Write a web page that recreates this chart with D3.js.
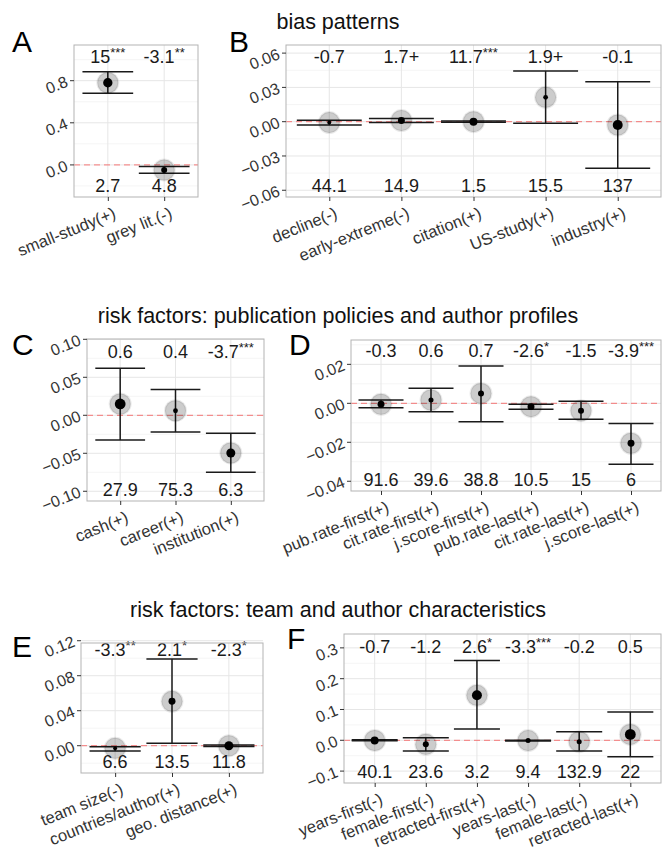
<!DOCTYPE html>
<html>
<head>
<meta charset="utf-8">
<script src="https://cdn.jsdelivr.net/npm/d3@7"></script>
<style>
body { margin: 0; background: #fff; }
text { font-family: "Liberation Sans", Arial, Helvetica, sans-serif; }
</style>
</head>
<body>
<script>
// A: bias patterns (left)
var catsA = ["small-study(+)", "grey lit.(-)"];
var estA = [0.78, -0.048];
var loA = [0.68, -0.079];
var hiA = [0.886, -0.016];
var wA = [0.78, 0.5];
var topA = ["15***", "-3.1**"];
var botA = ["2.7", "4.8"];
var ticksA = [0, 0.4, 0.8];

// B: bias patterns (right)
var catsB = ["decline(-)", "early-extreme(-)", "citation(+)", "US-study(+)", "industry(+)"];
var estB = [-0.0008, 0.001, 0.0, 0.0213, -0.0029];
var loB = [-0.0028, -0.0008, -0.0005, -0.0014, -0.0408];
var hiB = [0.0012, 0.0027, 0.0006, 0.0443, 0.035];
var wB = [0.33, 0.58, 0.66, 0.4, 0.83];
var topB = ["-0.7", "1.7+", "11.7***", "1.9+", "-0.1"];
var botB = ["44.1", "14.9", "1.5", "15.5", "137"];
var ticksB = [-0.06, -0.03, 0, 0.03, 0.06];

// C: publication policies
var catsC = ["cash(+)", "career(+)", "institution(+)"];
var estC = [0.0149, 0.006, -0.0496];
var loC = [-0.0325, -0.022, -0.075];
var hiC = [0.0618, 0.034, -0.0237];
var wC = [0.9, 0.4, 0.75];
var topC = ["0.6", "0.4", "-3.7***"];
var botC = ["27.9", "75.3", "6.3"];
var ticksC = [-0.1, -0.05, 0, 0.05, 0.1];

// D: author profiles
var catsD = ["pub.rate-first(+)", "cit.rate-first(+)", "j.score-first(+)", "pub.rate-last(+)", "cit.rate-last(+)", "j.score-last(+)"];
var estD = [-0.0005, 0.0017, 0.0051, -0.0017, -0.0038, -0.0205];
var loD = [-0.0023, -0.0043, -0.0094, -0.0031, -0.0082, -0.0313];
var hiD = [0.0017, 0.0077, 0.0191, -0.0005, 0.001, -0.0103];
var wD = [0.58, 0.42, 0.5, 0.58, 0.5, 0.58];
var topD = ["-0.3", "0.6", "0.7", "-2.6*", "-1.5", "-3.9***"];
var botD = ["91.6", "39.6", "38.8", "10.5", "15", "6"];
var ticksD = [-0.04, -0.02, 0, 0.02];

// E: team characteristics
var catsE = ["team size(-)", "countries/author(+)", "geo. distance(+)"];
var estE = [-0.003, 0.0507, 0.0];
var loE = [-0.006, 0.0027, -0.0008];
var hiE = [-0.0012, 0.099, 0.0008];
var wE = [0.33, 0.58, 0.75];
var topE = ["-3.3**", "2.1*", "-2.3*"];
var botE = ["6.6", "13.5", "11.8"];
var ticksE = [0, 0.04, 0.08, 0.12];

// F: author characteristics
var catsF = ["years-first(-)", "female-first(-)", "retracted-first(+)", "years-last(-)", "female-last(-)", "retracted-last(+)"];
var estF = [-0.0006, -0.013, 0.146, -0.001, -0.0045, 0.019];
var loF = [-0.0015, -0.0345, 0.0365, -0.0025, -0.0345, -0.053];
var hiF = [0.002, 0.0084, 0.259, 0.0005, 0.028, 0.092];
var wF = [0.66, 0.5, 0.83, 0.42, 0.42, 0.9];
var topF = ["-0.7", "-1.2", "2.6*", "-3.3***", "-0.2", "0.5"];
var botF = ["40.1", "23.6", "3.2", "9.4", "132.9", "22"];
var ticksF = [-0.1, 0, 0.1, 0.2, 0.3];

var titles = ["bias patterns", "risk factors: publication policies and author profiles", "risk factors: team and author characteristics"];

var W = 667, H = 857;
var ANG = -22;
var svg = d3.select("body").append("svg").attr("width", W).attr("height", H);

svg.selectAll(".title").data(titles).enter().append("text")
  .attr("x", 338)
  .attr("y", function(d, i) { return [29, 323, 617][i]; })
  .attr("text-anchor", "middle")
  .style("font-size", "21.5px")
  .style("fill", "#111")
  .text(function(d) { return d; });

var rScale = d3.scaleLinear().domain([0, 1]).range([0, 6]);

function panel(letter, cats, est, lo, hi, w, top, bot, ticks, box) {
  var x = d3.scalePoint().domain(cats).range([box.x0, box.x1]).padding(0.6);
  var y = d3.scaleLinear().domain(box.dom).range([box.y1, box.y0]);
  var step = x.step();
  var g = svg.append("g");

  svg.append("text").attr("x", box.lx).attr("y", box.ly)
    .style("font-size", "30px").style("fill", "#000").text(letter);

  // minor grid
  var minor = [];
  var dt = ticks[1] - ticks[0];
  for (var i = -1; i < ticks.length; i++) {
    var v = (i < 0 ? ticks[0] : ticks[i]) + (i < 0 ? -dt / 2 : dt / 2);
    if (v > box.dom[0] && v < box.dom[1]) minor.push(v);
  }
  g.selectAll(".minor").data(minor).enter().append("line")
    .attr("x1", box.x0).attr("x2", box.x1)
    .attr("y1", function(d) { return y(d); }).attr("y2", function(d) { return y(d); })
    .attr("stroke", "#f3f3f3").attr("stroke-width", 0.8);
  g.selectAll(".major").data(ticks).enter().append("line")
    .attr("x1", box.x0).attr("x2", box.x1)
    .attr("y1", function(d) { return y(d); }).attr("y2", function(d) { return y(d); })
    .attr("stroke", "#e6e6e6").attr("stroke-width", 1);
  g.selectAll(".vgrid").data(cats).enter().append("line")
    .attr("x1", function(d) { return x(d); }).attr("x2", function(d) { return x(d); })
    .attr("y1", box.y0).attr("y2", box.y1)
    .attr("stroke", "#e6e6e6").attr("stroke-width", 1);

  // zero line
  g.append("line").attr("x1", box.x0).attr("x2", box.x1)
    .attr("y1", y(0)).attr("y2", y(0))
    .attr("stroke", "rgba(255,0,0,0.4)").attr("stroke-width", 1.2)
    .attr("stroke-dasharray", "6,4");

  var rows = cats.map(function(c, i) {
    return { c: c, est: est[i], lo: lo[i], hi: hi[i], w: w[i], top: top[i], bot: bot[i] };
  });

  var bw = step * 0.9 / 2;
  var eb = g.selectAll(".eb").data(rows).enter().append("g")
    .attr("stroke", "#1a1a1a").attr("stroke-width", 1.5);
  eb.append("line")
    .attr("x1", function(d) { return x(d.c); }).attr("x2", function(d) { return x(d.c); })
    .attr("y1", function(d) { return y(d.lo); }).attr("y2", function(d) { return y(d.hi); });
  eb.append("line")
    .attr("x1", function(d) { return x(d.c) - bw; }).attr("x2", function(d) { return x(d.c) + bw; })
    .attr("y1", function(d) { return y(d.lo); }).attr("y2", function(d) { return y(d.lo); });
  eb.append("line")
    .attr("x1", function(d) { return x(d.c) - bw; }).attr("x2", function(d) { return x(d.c) + bw; })
    .attr("y1", function(d) { return y(d.hi); }).attr("y2", function(d) { return y(d.hi); });

  g.selectAll(".halo").data(rows).enter().append("circle")
    .attr("cx", function(d) { return x(d.c); }).attr("cy", function(d) { return y(d.est); })
    .attr("r", 10.5)
    .attr("fill", "rgba(0,0,0,0.2)")
    .attr("stroke", "rgba(0,0,0,0.08)").attr("stroke-width", 2);

  g.selectAll(".pt").data(rows).enter().append("circle")
    .attr("cx", function(d) { return x(d.c); }).attr("cy", function(d) { return y(d.est); })
    .attr("r", function(d) { return rScale(d.w); })
    .attr("fill", "#000");

  // labels
  function lab(sel, yy) {
    sel.attr("x", function(d) { return x(d.c); }).attr("y", yy)
      .attr("text-anchor", "middle").style("font-size", "18px").style("fill", "#1a1a1a");
  }
  var tl = g.selectAll(".tl").data(rows).enter().append("text");
  lab(tl, box.y0 + box.topOff);
  tl.each(function(d) {
    var m = d.top.match(/^(.*?)(\*+)$/);
    var t = d3.select(this);
    if (m) {
      t.append("tspan").text(m[1]);
      t.append("tspan").attr("dy", -6).style("font-size", "13px").text(m[2]);
    } else {
      t.text(d.top);
    }
  });
  var bl = g.selectAll(".bl").data(rows).enter().append("text");
  lab(bl, box.y1 - 5);
  bl.text(function(d) { return d.bot; });

  // border
  g.append("rect").attr("x", box.x0).attr("y", box.y0)
    .attr("width", box.x1 - box.x0).attr("height", box.y1 - box.y0)
    .attr("fill", "none").attr("stroke", "#b3b3b3").attr("stroke-width", 1);

  // axes
  var yAxis = d3.axisLeft(y).tickValues(ticks).tickSize(4).tickPadding(3)
    .tickFormat(d3.format(box.fmt));
  var ya = svg.append("g").attr("transform", "translate(" + box.x0 + ",0)").call(yAxis);
  ya.select(".domain").remove();
  ya.selectAll("line").attr("stroke", "#333");
  ya.selectAll("text")
    .attr("transform", function(d) { return "rotate(" + ANG + "," + (-7) + "," + y(d) + ")"; })
    .attr("x", -7).attr("y", function(d) { return y(d); }).attr("dy", "0.35em")
    .style("font-size", "16px").style("fill", "#333");
  ya.selectAll(".tick").attr("transform", null);
  ya.selectAll(".tick line").attr("y1", function(d) { return y(d); }).attr("y2", function(d) { return y(d); });

  var xAxis = d3.axisBottom(x).tickSize(4).tickPadding(3);
  var xa = svg.append("g").attr("transform", "translate(0," + box.y1 + ")").call(xAxis);
  xa.select(".domain").remove();
  xa.selectAll("line").attr("stroke", "#333");
  xa.selectAll("text")
    .attr("text-anchor", "end")
    .attr("transform", "translate(4,9) rotate(" + ANG + ")")
    .attr("y", 0).attr("dy", "0.75em")
    .style("font-size", "16.5px").style("fill", "#333");
}

panel("A", catsA, estA, loA, hiA, wA, topA, botA, ticksA,
  { x0: 74, x1: 198, y0: 45, y1: 197, dom: [-0.3048, 1.139], lx: 12, ly: 52, topOff: 18, fmt: ".1f" });
panel("B", catsB, estB, loB, hiB, wB, topB, botB, ticksB,
  { x0: 286, x1: 661, y0: 45, y1: 197, dom: [-0.0659, 0.0671], lx: 229, ly: 52, topOff: 18, fmt: ".2f" });
panel("C", catsC, estC, loC, hiC, wC, topC, botC, ticksC,
  { x0: 87, x1: 264, y0: 339, y1: 501, dom: [-0.1128, 0.1004], lx: 12, ly: 355, topOff: 19, fmt: ".2f" });
panel("D", catsD, estD, loD, hiD, wD, topD, botD, ticksD,
  { x0: 351, x1: 661, y0: 340, y1: 491, dom: [-0.045, 0.0325], lx: 289, ly: 355, topOff: 17, fmt: ".2f" });
panel("E", catsE, estE, loE, hiE, wE, topE, botE, ticksE,
  { x0: 81, x1: 263, y0: 643, y1: 773, dom: [-0.0312, 0.1174], lx: 12, ly: 657, topOff: 13, fmt: ".2f" });
panel("F", catsF, estF, loF, hiF, wF, topF, botF, ticksF,
  { x0: 344, x1: 661, y0: 634, y1: 783, dom: [-0.1386, 0.345], lx: 287, ly: 649, topOff: 18.5, fmt: ".1f" });
</script>
</body>
</html>
